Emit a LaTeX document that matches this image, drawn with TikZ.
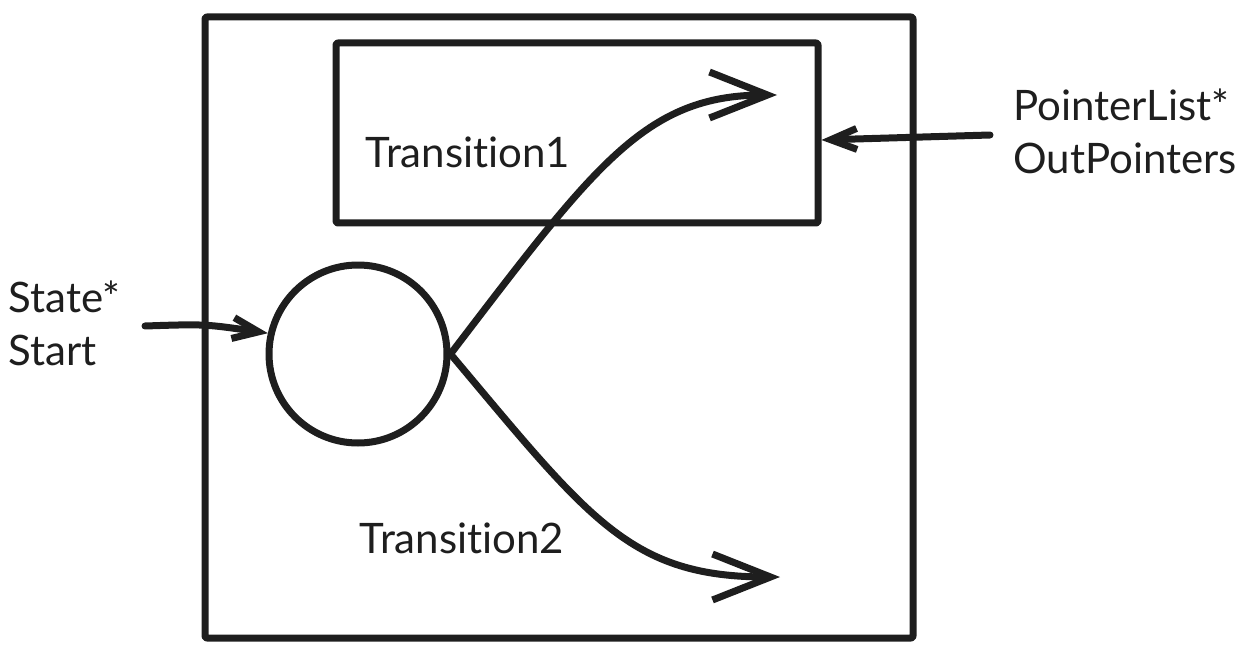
\documentclass[tikz,border=0pt]{standalone}
\usepackage{fontspec}
\setmainfont{Lato}[Ligatures=NoCommon]
\usetikzlibrary{arrows.meta}
\definecolor{ink}{HTML}{1E1E1E}
\tikzset{
every picture/.style={
line width=7pt, color=ink, line cap=round, line join=round
}}
\tikzset{
  lbl/.style={font=\fontsize{42}{53}\selectfont, align=left, inner sep=0pt},
  bigtip/.style={-{Straight Barb[length=58pt, width=46pt]}},
  smalltip/.style={-{Straight Barb[length=26pt, width=21pt]}}
}

\begin{document}
\begin{tikzpicture}[x=1pt, y=-1pt]
  \useasboundingbox (0,0) rectangle (1250,647);

  \node (frame) [draw, minimum width=708pt, minimum height=621pt, inner sep=0pt, rounded corners=2pt] at (559,327.5) {};
  \node (trans1box) [draw, minimum width=482pt, minimum height=180pt, inner sep=0pt, rounded corners=2pt] at (577,133) {};
  \node (trans1) [lbl] at (468,152) {Transition1};
  \node (trans2) [lbl] at (462,538) {Transition2};
  \node (state) [draw, circle, minimum size=178pt, inner sep=0pt] at (358,354) {};

  \node (startlbl) [lbl, anchor=west] at (5,323) {State*\\Start};
  \node (outlbl) [lbl, anchor=west] at (1010,131) {PointerList*\\OutPointers};

  \coordinate (startin) at (145,326);
  \coordinate (outin) at (990,135);
  \coordinate (t1end) at (777,95);
  \coordinate (t2end) at (780,577);

  \draw [smalltip] (startin) .. controls (205,324) .. (state.167);
  \draw [smalltip] (outin) -- ([yshift=-7pt]trans1box.east);

  \draw [bigtip] (state.east) .. controls (595,165) and (645,95) .. (t1end);
  \draw [bigtip] (state.east) .. controls (590,520) and (630,577) .. (t2end);

\end{tikzpicture}
\end{document}
